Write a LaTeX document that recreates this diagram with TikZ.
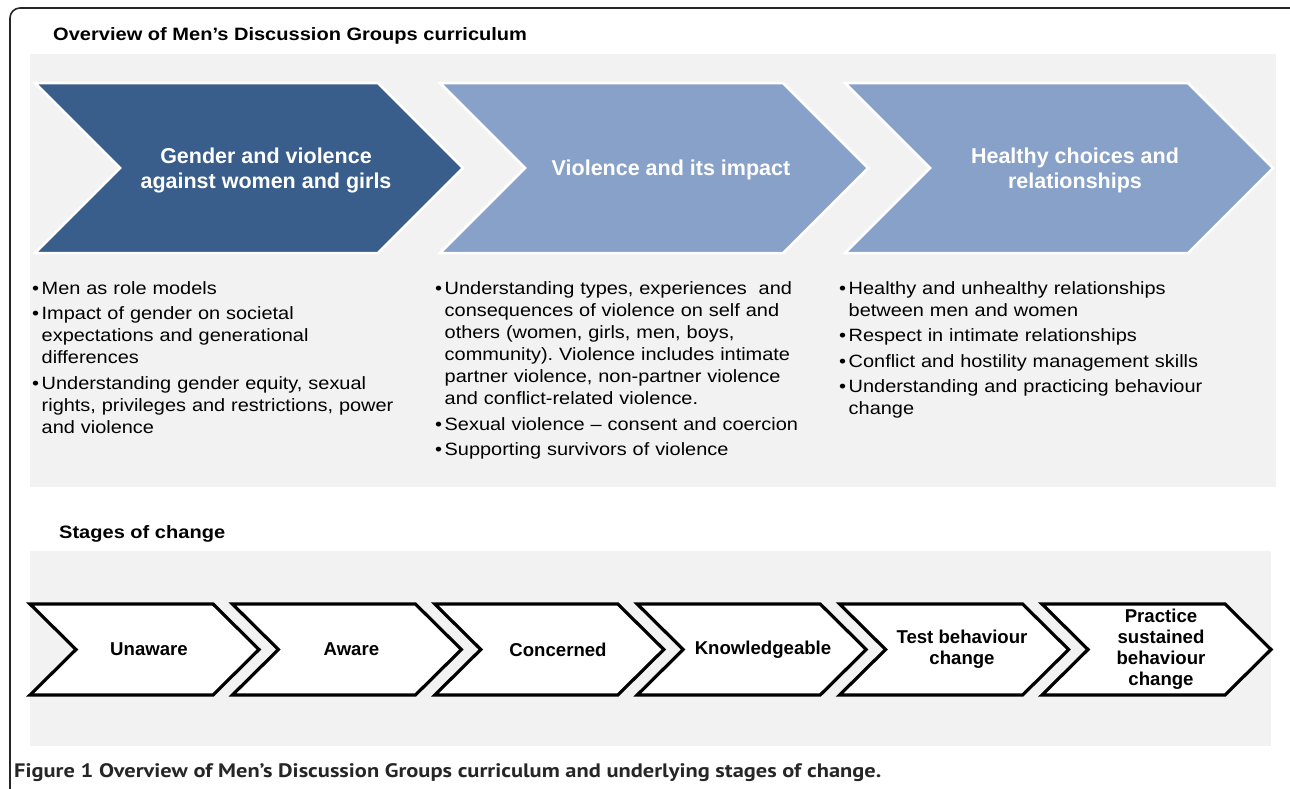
\documentclass[tikz,border=0pt]{standalone}
\usepackage{fontspec}
\setmainfont{Liberation Sans}
\newfontfamily\widefont[FakeStretch=1.12]{Liberation Sans}
\newfontfamily\capfont[FakeStretch=1.15]{PT Sans}
\definecolor{darkblue}{RGB}{58,94,139}
\definecolor{lightblue}{RGB}{136,161,200}
\definecolor{panelgray}{RGB}{242,242,242}
\definecolor{capgray}{RGB}{38,38,38}
\newcommand{\bitem}[1]{\hangindent=9.5pt\hangafter=1\noindent\makebox[9.5pt][l]{\textbullet}#1\par}
\frenchspacing

\begin{document}
\begin{tikzpicture}[x=1pt,y=-1pt,
    topchev/.style={draw=white,line width=2.5pt,line join=miter},
    stagechev/.style={draw=black,fill=white,line width=3.2pt,line join=miter},
    heading/.style={anchor=base west,inner sep=0pt,font=\widefont\fontsize{17.9}{20}\selectfont\bfseries}]
    \tikzstyle{toptext}=[text=white,align=center,inner sep=0pt,font=\fontsize{21.5}{25}\selectfont\bfseries]
    \tikzstyle{stagetext}=[align=center,inner sep=0pt,font=\fontsize{18.6}{21}\selectfont\bfseries]
    \tikzstyle{bullets}=[anchor=base west,inner sep=0pt,text width=385pt,font=\widefont\fontsize{17.8}{22}\selectfont,execute at begin node={\setlength{\parskip}{3.5pt}}]

    \useasboundingbox (0,0) rectangle (1290,788);
    \clip (0,0) rectangle (1290,788);

    % outer frame and panels
    \draw[black!85,line width=1.6pt,rounded corners=10pt] (10,820) -- (10,8) -- (1300,8) -- (1300,820);
    \fill[panelgray] (30,54) rectangle (1276,487);
    \fill[panelgray] (30,551) rectangle (1271,746);

    \node[heading] (overview) at (53,40.5) {Overview of Men’s Discussion Groups curriculum};
    \node[heading] (stages) at (59,538) {Stages of change};

    % curriculum chevrons
    \draw[topchev,fill=darkblue] (35,83) -- ++(343,0) -- ++(85,85) -- ++(-85,85) -- ++(-343,0) -- ++(85,-85) -- cycle;
    \draw[topchev,fill=lightblue] (440,83) -- ++(343,0) -- ++(85,85) -- ++(-85,85) -- ++(-343,0) -- ++(85,-85) -- cycle;
    \draw[topchev,fill=lightblue] (845,83) -- ++(343,0) -- ++(85,85) -- ++(-85,85) -- ++(-343,0) -- ++(85,-85) -- cycle;

    \node[toptext] (gender) at (266,170) {Gender and violence\\against women and girls};
    \node[toptext] (impact) at (671,170) {Violence and its impact};
    \node[toptext] (healthy) at (1075,170) {Healthy choices and\\relationships};

    \node[bullets] (genderlist) at (32,294) {%
        \bitem{Men as role models}%
        \bitem{Impact of gender on societal\newline expectations and generational\newline differences}%
        \bitem{Understanding gender equity, sexual\newline rights, privileges and restrictions, power\newline and violence}};
    \node[bullets] (impactlist) at (435,294.5) {%
        \bitem{Understanding types, experiences\ \ and\newline consequences of violence on self and\newline others (women, girls, men, boys,\newline community). Violence includes intimate\newline partner violence, non-partner violence\newline and conflict-related violence.}%
        \bitem{Sexual violence – consent and coercion}%
        \bitem{Supporting survivors of violence}};
    \node[bullets] (healthylist) at (839,294) {%
        \bitem{Healthy and unhealthy relationships\newline between men and women}%
        \bitem{Respect in intimate relationships}%
        \bitem{Conflict and hostility management skills}%
        \bitem{Understanding and practicing behaviour\newline change}};

    % stages of change
    \draw[stagechev] (30,604) -- ++(183,0) -- ++(46,45.5) -- ++(-46,45.5) -- ++(-183,0) -- ++(46,-45.5) -- cycle;
    \draw[stagechev] (232.4,604) -- ++(183,0) -- ++(46,45.5) -- ++(-46,45.5) -- ++(-183,0) -- ++(46,-45.5) -- cycle;
    \draw[stagechev] (434.8,604) -- ++(183,0) -- ++(46,45.5) -- ++(-46,45.5) -- ++(-183,0) -- ++(46,-45.5) -- cycle;
    \draw[stagechev] (637.2,604) -- ++(183,0) -- ++(46,45.5) -- ++(-46,45.5) -- ++(-183,0) -- ++(46,-45.5) -- cycle;
    \draw[stagechev] (839.6,604) -- ++(183,0) -- ++(46,45.5) -- ++(-46,45.5) -- ++(-183,0) -- ++(46,-45.5) -- cycle;
    \draw[stagechev] (1042,604) -- ++(183,0) -- ++(46,45.5) -- ++(-46,45.5) -- ++(-183,0) -- ++(46,-45.5) -- cycle;

    \node[stagetext] (unaware) at (149,649.5) {Unaware};
    \node[stagetext] (aware) at (351.4,649.5) {Aware};
    \node[stagetext] (concerned) at (558,649.5) {Concerned};
    \node[stagetext] (knowledgeable) at (763,649.5) {Knowledgeable};
    \node[stagetext] (test) at (962,649.5) {Test behaviour\\change};
    \node[stagetext] (practice) at (1161,649.5) {Practice\\sustained\\behaviour\\change};

    \node[anchor=base west,inner sep=0pt,text=capgray,font=\capfont\fontsize{19.5}{20}\selectfont\bfseries] (caption) at (14,777.5)
        {Figure 1 Overview of Men’s Discussion Groups curriculum and underlying stages of change.};
\end{tikzpicture}
\end{document}
